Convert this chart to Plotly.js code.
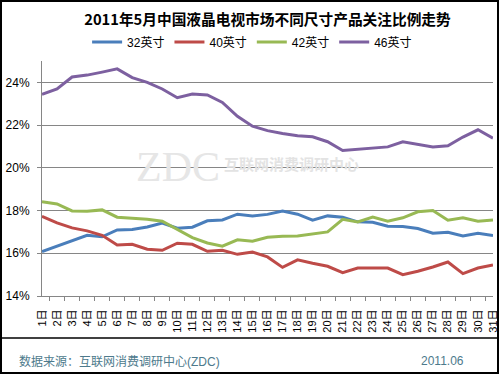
<!DOCTYPE html>
<html>
<head>
<meta charset="utf-8">
<script src="https://cdn.plot.ly/plotly-3.0.1.min.js"></script>
<style>
html,body{margin:0;padding:0;background:#fff;}
#chart{width:500px;height:375px;}
</style>
</head>
<body>
<div id="chart"></div>
<script>
// ---- data ----
const days = ["1日","2日","3日","4日","5日","6日","7日","8日","9日","10日","11日","12日","13日","14日","15日","16日","17日","18日","19日","20日","21日","22日","23日","24日","25日","26日","27日","28日","29日","30日","31日"];
const seriesNames = ["32英寸","40英寸","42英寸","46英寸"];
const s32 = [16.08,16.33,16.58,16.84,16.77,17.09,17.11,17.23,17.41,17.17,17.22,17.52,17.56,17.83,17.75,17.82,17.98,17.83,17.55,17.75,17.69,17.47,17.45,17.27,17.25,17.16,16.94,16.98,16.81,16.94,16.83];
const s40 = [17.73,17.42,17.19,17.05,16.84,16.39,16.42,16.19,16.14,16.47,16.42,16.09,16.14,15.95,16.06,15.83,15.34,15.69,15.53,15.39,15.09,15.31,15.31,15.31,15.00,15.16,15.36,15.59,15.05,15.31,15.45];
const s42 = [18.41,18.31,17.98,17.97,18.03,17.69,17.64,17.59,17.50,17.13,16.73,16.48,16.33,16.63,16.56,16.75,16.80,16.81,16.91,17.00,17.59,17.47,17.69,17.50,17.66,17.94,18.00,17.55,17.66,17.50,17.56];
const s46 = [23.44,23.69,24.25,24.34,24.48,24.63,24.22,24.00,23.69,23.28,23.45,23.41,23.06,22.41,21.95,21.74,21.61,21.50,21.45,21.22,20.81,20.86,20.92,20.98,21.22,21.11,20.97,21.03,21.44,21.78,21.39];
const yTicks = [14,16,18,20,22,24];
const titleText = "2011年5月中国液晶电视市场不同尺寸产品关注比例走势";
const sourceText = "数据来源：互联网消费调研中心(ZDC)";
const dateText = "2011.06";
const watermarkA = "ZDC";
const watermarkB = "互联网消费调研中心";

// ---- styling ----
const colors = ["#4A7EBB","#BE4B48","#98B954","#7D60A0"];
const allSeries = [s32,s40,s42,s46];
const font = "Liberation Sans, Arial, Noto Sans CJK SC, sans-serif";
const cjk = "Noto Sans CJK SC, sans-serif";

const traces = allSeries.map((vals,i)=>({
  type:"scatter", mode:"lines", x:days, y:vals, name:seriesNames[i],
  line:{color:colors[i], width:3}, hoverinfo:"skip"
}));

const layout = {
  width:500, height:375,
  margin:{l:42, r:7, t:61, b:79},
  paper_bgcolor:"#fff", plot_bgcolor:"#fff",
  font:{family:font, size:12, color:"#000"},
  title:{text:titleText, font:{family:cjk, size:14.7, color:"#000", weight:"bold"},
         x:0.5, xref:"paper", xanchor:"center", y:0.947, yanchor:"middle"},
  showlegend:true,
  legend:{orientation:"h", x:0.1, xanchor:"left", y:1.081, yanchor:"middle",
          font:{family:font, size:12, color:"#000"}, bgcolor:"rgba(0,0,0,0)"},
  xaxis:{type:"category", tickson:"boundaries", showgrid:false,
         showline:true, linecolor:"#868686", linewidth:1,
         ticks:"outside", ticklen:4, tickcolor:"#868686",
         tickangle:-90, tickfont:{family:font, size:11, color:"#000"},
         ticklabelstandoff:8,
         fixedrange:true, zeroline:false},
  yaxis:{range:[14,25], tickvals:yTicks, ticktext:yTicks.map(v=>v+"%"),
         showgrid:true, gridcolor:"#868686", gridwidth:1,
         showline:true, linecolor:"#868686", linewidth:1,
         ticks:"outside", ticklen:4, tickcolor:"#868686",
         tickfont:{family:font, size:12, color:"#000"},
         ticklabelstandoff:5,
         zeroline:false, fixedrange:true},
  annotations:[
    {text:watermarkA, xref:"paper", yref:"paper", x:0.3016, y:0.549, xanchor:"center", yanchor:"middle",
     showarrow:false, font:{family:"Liberation Serif, serif", size:42, color:"#e6e6e6"}},
    {text:watermarkB, xref:"paper", yref:"paper", x:0.399, y:0.562, xanchor:"left", yanchor:"middle",
     showarrow:false, font:{family:cjk, size:15, color:"#e3e3e3", weight:"bold"}},
    {text:sourceText, xref:"paper", yref:"paper", x:-0.0554, y:-0.2766, xanchor:"left", yanchor:"middle",
     showarrow:false, font:{family:font, size:12, color:"#4D7A8C"}},
    {text:dateText, xref:"paper", yref:"paper", x:0.940, y:-0.2766, xanchor:"right", yanchor:"middle",
     showarrow:false, font:{family:font, size:12, color:"#4D7A8C"}}
  ],
  shapes:[
    {type:"rect", xref:"paper", yref:"paper", x0:-0.0909, x1:1.0111, y0:-0.3277, y1:1.2553,
     line:{color:"#000", width:2}, fillcolor:"rgba(0,0,0,0)", layer:"above"},
    {type:"line", xref:"paper", yref:"paper", x0:-0.0909, x1:1.0111, y0:-0.1787, y1:-0.1787,
     line:{color:"#000", width:1.5}}
  ]
};

Plotly.newPlot("chart", traces, layout, {staticPlot:true, displayModeBar:false});
</script>
</body>
</html>
